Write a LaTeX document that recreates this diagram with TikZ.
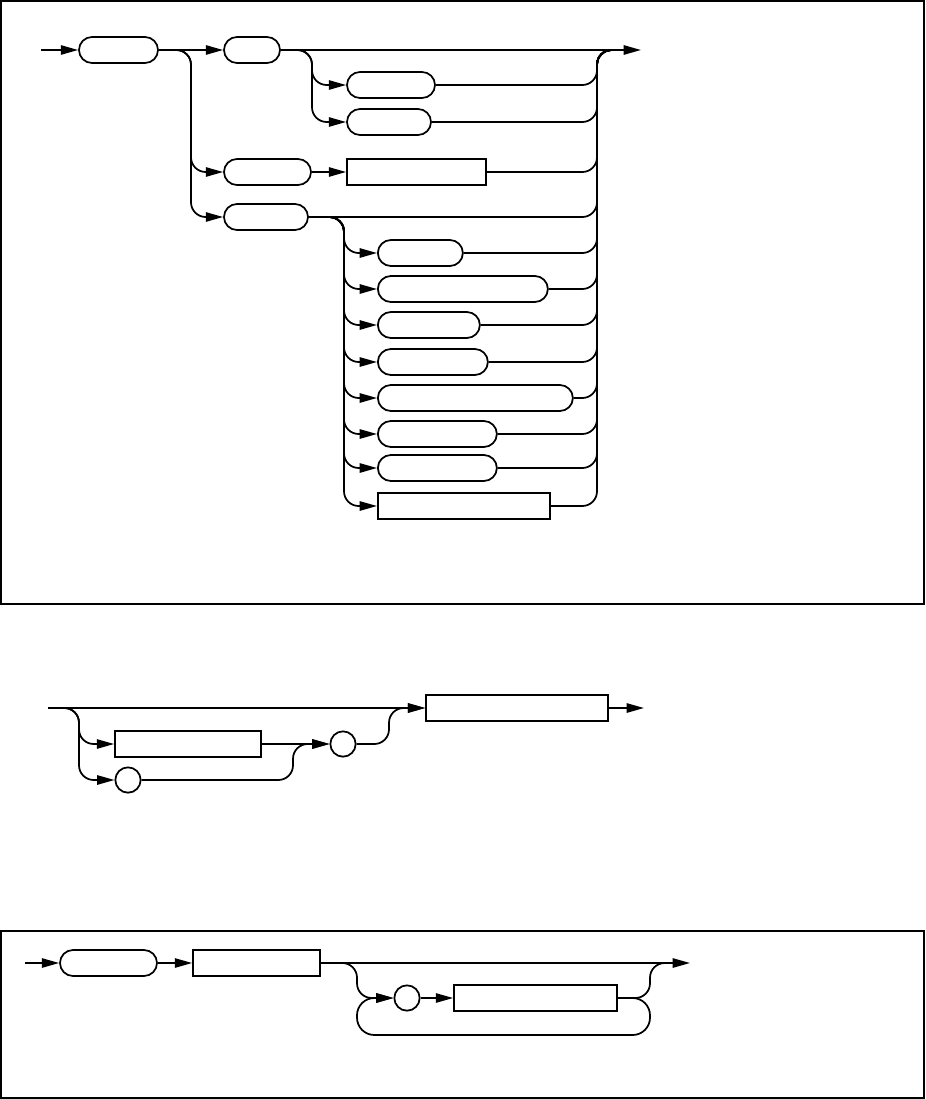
\documentclass[tikz,border=0pt]{standalone}
\usepackage{tikz}
\usetikzlibrary{arrows.meta,positioning,calc}
\tikzset{
  term/.style={draw, line width=1.3pt, rounded corners=9.75pt, inner sep=0pt, minimum height=19.5pt, minimum width={#1*0.75pt}},
  nterm/.style={draw, line width=1.3pt, sharp corners, inner sep=0pt, minimum height=19pt, minimum width={#1*0.75pt}},
  sym/.style={draw, line width=1.3pt, circle, inner sep=0pt, minimum size=19pt},
  rail/.style={line width=1.3pt, rounded corners=11pt},
  arr/.style={rail, -{Triangle[length=13pt,width=7pt]}},
  frame/.style={draw, line width=0.8pt},
}
\begin{document}
\begin{tikzpicture}[x=0.75pt, y=-0.75pt]
  \useasboundingbox (0,0) rectangle (925,1099);
  \draw[frame] (1,1) rectangle (924,604);
  \draw[frame] (1,931) rectangle (924,1098);

  % first diagram
  \coordinate (in1) at (41,50);
  \coordinate (out1) at (641,50);
  \coordinate (s1) at (191,50);
  \coordinate (s2) at (312,50);
  \coordinate (s3) at (344,217);
  \coordinate (r1) at (597,50);
  \coordinate (r1e) at (620,50);
  \node[term=79] (A) at (118.5,50) {};
  \node[term=56] (B) at (252,50) {};
  \node[term=88] (C1) at (391,85) {};
  \node[term=84] (C2) at (389,122) {};
  \node[term=87] (D) at (267.5,172) {};
  \node[nterm=139] (E) at (416.5,172) {};
  \node[term=84] (F) at (266,217) {};
  \foreach \i/\w/\y in {1/85/253, 2/170/289, 3/102/325, 4/110/362, 5/195/398, 6/119/434, 7/119/468}
    \node[term=\w, anchor=west] (G\i) at (377,\y) {};
  \node[nterm=172, anchor=west] (G8) at (377,506) {};
  \draw[arr] (in1) -- (A);
  \draw[arr] (A) -- (B);
  \draw[arr] (B) -- (out1);
  \draw[arr] (A.east) -- (s1) |- (D.west);
  \draw[arr] (A.east) -- (s1) |- (F.west);
  \draw[arr] (B.east) -- (s2) |- (C1.west);
  \draw[arr] (B.east) -- (s2) |- (C2.west);
  \draw[arr] (D) -- (E);
  \foreach \i in {1,...,8}
    \draw[arr] (F.east) -- (s3) |- (G\i.west);
  \foreach \n in {C1,C2,E,F,G1,G2,G3,G4,G5,G6,G7,G8}
    \draw[rail] (\n.east) -| (r1) -- (r1e);

  % second diagram
  \coordinate (in2) at (48,708);
  \coordinate (s4) at (79,708);
  \coordinate (j1) at (293,744);
  \coordinate (j2) at (389,708);
  \coordinate (out2) at (644,708);
  \node[nterm=182] (H) at (517,708) {};
  \node[nterm=146] (I) at (188,744) {};
  \node[sym] (J) at (343,744) {};
  \node[sym] (K) at (128,780) {};
  \draw[arr] (in2) -- (H);
  \draw[arr] (H) -- (out2);
  \draw[arr] (in2) -- (s4) |- (I.west);
  \draw[arr] (in2) -- (s4) |- (K.west);
  \draw[arr] (I) -- (J);
  \draw[arr] (K.east) -| (j1) -- (J.west);
  \draw[arr] (J.east) -| (j2) -- (H.west);

  % third diagram
  \coordinate (in3) at (25,963);
  \coordinate (s5) at (357,963);
  \coordinate (r5) at (650,963);
  \coordinate (r5e) at (668,963);
  \coordinate (out3) at (690,963);
  \coordinate (lp1) at (650,1035);
  \coordinate (lp2) at (357,1035);
  \node[term=97] (L) at (108.5,963) {};
  \node[nterm=127] (M) at (256.5,963) {};
  \node[sym] (N) at (407,998) {};
  \node[nterm=163] (O) at (535.5,998) {};
  \draw[arr] (in3) -- (L);
  \draw[arr] (L) -- (M);
  \draw[arr] (M) -- (out3);
  \draw[arr] (M.east) -- (s5) |- (N.west);
  \draw[arr] (N) -- (O);
  \draw[rail] (O.east) -| (r5) -- (r5e);
  \draw[arr, rounded corners=13pt] (O.east) -| (lp1) -- (lp2) |- (N.west);
\end{tikzpicture}
\end{document}
